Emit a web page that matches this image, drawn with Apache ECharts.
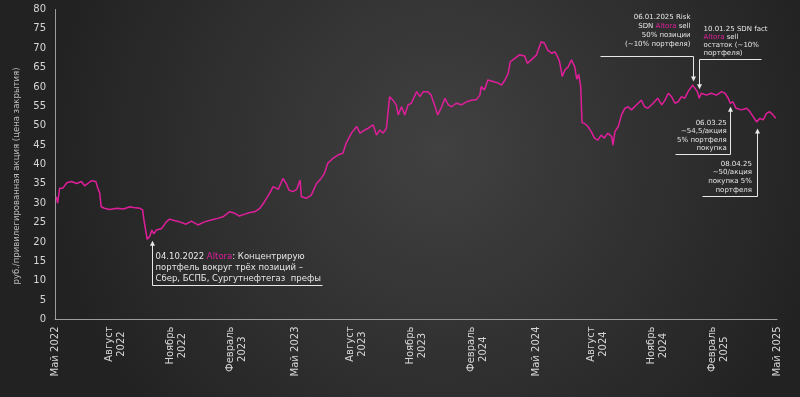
<!DOCTYPE html>
<html lang="ru">
  <head>
    <meta charset="UTF-8" />
    <title>Chart</title>
    <script src="https://cdn.jsdelivr.net/npm/echarts@6.0.0/dist/echarts.min.js"></script>
    <style>
      html, body { margin: 0; padding: 0; background: #262626; }
      #main { width: 800px; height: 397px; }
    </style>
  </head>
  <body>
    <div id="main"></div>
  </body>
  <script type="text/javascript">
    const dates = [
      '2022-05-03','2022-05-05','2022-05-08','2022-05-10','2022-05-13','2022-05-19','2022-05-26',
      '2022-06-03','2022-06-10','2022-06-15','2022-06-20','2022-06-25',
      '2022-07-02','2022-07-05','2022-07-08','2022-07-10','2022-07-15','2022-07-23',
      '2022-08-03','2022-08-13','2022-08-23','2022-08-28',
      '2022-09-07','2022-09-11','2022-09-13','2022-09-16','2022-09-18','2022-09-22','2022-09-25','2022-09-28',
      '2022-10-02','2022-10-10','2022-10-17','2022-10-22','2022-10-30',
      '2022-11-06','2022-11-16','2022-11-24',
      '2022-12-04','2022-12-14','2022-12-24',
      '2023-01-03','2023-01-11','2023-01-21','2023-01-29',
      '2023-02-05','2023-02-13','2023-02-21','2023-02-28',
      '2023-03-08','2023-03-15','2023-03-23','2023-03-28',
      '2023-04-05','2023-04-12','2023-04-17','2023-04-21','2023-04-27',
      '2023-05-03','2023-05-08','2023-05-10','2023-05-18','2023-05-25',
      '2023-06-02','2023-06-09','2023-06-14','2023-06-19','2023-06-27',
      '2023-07-05','2023-07-12','2023-07-17','2023-07-25',
      '2023-08-02','2023-08-07','2023-08-14','2023-08-19','2023-08-27',
      '2023-09-01','2023-09-06','2023-09-11','2023-09-16','2023-09-21','2023-09-26',
      '2023-10-01','2023-10-04','2023-10-09','2023-10-14','2023-10-19','2023-10-24',
      '2023-11-01','2023-11-06','2023-11-11','2023-11-18','2023-11-23','2023-11-28',
      '2023-12-03','2023-12-09','2023-12-14','2023-12-19','2023-12-24','2023-12-31',
      '2024-01-08','2024-01-16','2024-01-23','2024-01-31',
      '2024-02-05','2024-02-07','2024-02-12','2024-02-17','2024-02-25',
      '2024-03-04','2024-03-09','2024-03-14','2024-03-19','2024-03-22','2024-03-29',
      '2024-04-05','2024-04-13','2024-04-17','2024-04-23',
      '2024-05-01','2024-05-08','2024-05-13','2024-05-18','2024-05-24','2024-05-29',
      '2024-06-03','2024-06-05','2024-06-09','2024-06-13','2024-06-18','2024-06-23','2024-06-28',
      '2024-07-01','2024-07-04','2024-07-07','2024-07-09','2024-07-13','2024-07-18','2024-07-23','2024-07-28',
      '2024-08-02','2024-08-07','2024-08-12','2024-08-17','2024-08-23','2024-08-25','2024-08-28',
      '2024-09-02','2024-09-07','2024-09-12','2024-09-17','2024-09-22','2024-09-30',
      '2024-10-07','2024-10-12','2024-10-17','2024-10-25',
      '2024-11-01','2024-11-07','2024-11-12','2024-11-17','2024-11-22','2024-11-27',
      '2024-12-02','2024-12-07','2024-12-12','2024-12-17','2024-12-24','2024-12-27','2024-12-31',
      '2025-01-03','2025-01-06','2025-01-14','2025-01-21','2025-01-29',
      '2025-02-06','2025-02-11','2025-02-16','2025-02-19','2025-02-23','2025-02-28',
      '2025-03-08','2025-03-16','2025-03-21','2025-03-26','2025-03-31',
      '2025-04-05','2025-04-10','2025-04-15','2025-04-20','2025-04-25','2025-04-29'
    ];
    const prices = [
      31.7, 30.0, 33.9, 34.3, 33.9, 35.3, 35.6,
      35.1, 35.6, 34.5, 35.1, 35.8,
      35.6, 33.9, 32.6, 29.1, 28.7, 28.4,
      28.7, 28.5, 29.1, 28.9,
      28.7, 28.3, 25.7, 22.7, 20.7, 21.5, 23.1, 22.1,
      23.1, 23.5, 25.2, 25.9, 25.5,
      25.2, 24.6, 25.4,
      24.4, 25.2, 25.7,
      26.1, 26.5, 27.8, 27.4,
      26.7, 27.2, 27.6, 27.8,
      28.7, 30.4, 32.6, 34.3,
      33.6, 36.4, 35.1, 33.4, 33.0,
      33.6, 36.0, 31.7, 31.3, 32.1,
      35.1, 36.4, 37.7, 40.3, 41.6,
      42.5, 42.9, 45.5, 48.1,
      49.8, 48.1, 48.9, 49.3, 50.2,
      47.6, 48.9, 48.1, 49.3, 57.5, 56.6,
      55.4, 52.8, 54.9, 52.8, 55.4, 55.8,
      58.8, 57.5, 58.8, 58.8, 57.9, 55.4,
      52.8, 54.9, 57.1, 55.4, 54.9, 55.8,
      55.4, 56.2, 56.6, 56.8,
      57.9, 60.1, 59.2, 61.8, 61.4,
      61.0, 60.5, 61.8, 63.5, 66.5, 67.4,
      68.3, 68.0, 66.1, 67.0,
      68.3, 71.7, 71.3, 69.5, 68.7, 69.1,
      67.4, 66.5, 62.7, 64.4, 65.2, 67.0, 65.2,
      62.0, 63.3, 60.1, 50.8, 50.6, 49.8, 48.5, 46.8,
      46.3, 47.6, 46.8, 48.1, 47.2, 45.0, 48.5,
      49.8, 52.8, 54.5, 54.9, 54.1, 55.4,
      56.6, 54.9, 54.5, 55.8,
      57.1, 55.4, 56.6, 58.4, 57.5, 55.8,
      56.2, 57.5, 57.1, 58.8, 60.5, 60.1, 58.8,
      57.1, 58.4, 57.9, 58.4, 57.9,
      58.8, 58.4, 57.1, 55.8, 56.2, 54.5,
      54.1, 54.5, 53.6, 52.3, 51.0,
      51.9, 51.5, 53.2, 53.6, 52.8, 51.9
    ];

    const tickDates = [
      '2022-05-01','2022-08-01','2022-11-01','2023-02-01','2023-05-01','2023-08-01','2023-11-01',
      '2024-02-01','2024-05-01','2024-08-01','2024-11-01','2025-02-01','2025-05-01'
    ];
    const tickLabels = [
      'Май 2022','Август\n2022','Ноябрь\n2022','Февраль\n2023','Май 2023','Август\n2023','Ноябрь\n2023',
      'Февраль\n2024','Май 2024','Август\n2024','Ноябрь\n2024','Февраль\n2025','Май 2025'
    ];

    // подписи-стрелки: дата и уровень острия
    const noteDates = ['2022-09-26', '2024-12-24', '2025-01-03', '2025-02-19', '2025-04-01'];
    const noteValues = [20.3, 61.4, 59.4, 54.9, 49.3];
    const noteTexts = [
      ['04.10.2022 Altora: Концентрирую', 'портфель вокруг трёх позиций –', 'Сбер, БСПБ, Сургутнефтегаз  префы'],
      ['06.01.2025 Risk', 'SDN Altora sell', '50% позиции', '(~10% портфеля)'],
      ['10.01.25 SDN fact', 'Altora sell', 'остаток (~10%', 'портфеля)'],
      ['06.03.25', '~54,5/акция', '5% портфеля', 'покупка'],
      ['08.04.25', '~50/акция', 'покупка 5%', 'портфеля']
    ];

    const pink = '#e01e9b';
    const textColor = '#d6d6d6';
    const fontFamily = 'DejaVu Sans';

    // раскладка подписей в пикселях относительно острия
    const noteLayout = [
      { stem: 44, from: 0, to: 170, tx: 3, ty: -1, align: 'left', size: 8.5, lh: 11 },
      { stem: -26, from: -93, to: 0, tx: -3, ty: -7.5, align: 'right', size: 7, lh: 9 },
      { stem: -30, from: 0, to: 62, tx: 4, ty: -2.7, align: 'left', size: 7, lh: 7.8 },
      { stem: 47, from: -55, to: 0, tx: -3.7, ty: -2, align: 'right', size: 7, lh: 8.4 },
      { stem: 68, from: -55, to: 0, tx: -5.6, ty: -2.3, align: 'right', size: 7, lh: 8.7 }
    ];

    const toTime = (d) => echarts.time.parse(d).getTime();
    const tickTimes = tickDates.map(toTime);

    const chartDom = document.getElementById('main');
    const myChart = echarts.init(chartDom);

    const option = {
      backgroundColor: new echarts.graphic.RadialGradient(0.55, 0.38, 1.0, [
        { offset: 0, color: '#414141' },
        { offset: 1, color: '#222222' }
      ]),
      animation: false,
      grid: { left: 55, right: 23, top: 9.5, bottom: 77.5 },
      xAxis: {
        type: 'value',
        min: tickTimes[0],
        max: tickTimes[tickTimes.length - 1],
        axisLine: { lineStyle: { color: '#9c9c9c', width: 1 } },
        axisTick: { show: false },
        splitLine: { show: false },
        axisLabel: {
          customValues: tickTimes,
          rotate: 90,
          margin: 7,
          color: textColor,
          fontFamily: fontFamily,
          fontSize: 10,
          formatter: function (val) {
            let i = tickTimes.findIndex((t) => Math.abs(t - val) < 86400000);
            if (i < 0) return '';
            return tickLabels[i].split('\n').map((s) => '{a|' + s + '}').join('\n');
          },
          rich: {
            a: { align: 'center', color: textColor, fontFamily: fontFamily, fontSize: 10, lineHeight: 12 }
          }
        }
      },
      yAxis: {
        type: 'value',
        min: 0,
        max: 80,
        interval: 5,
        name: 'руб./привилегированная акция (цена закрытия)',
        nameLocation: 'middle',
        nameGap: 34,
        nameTextStyle: { color: '#bdbdbd', fontFamily: fontFamily, fontSize: 8.5, padding: [0, 23, 0, 0] },
        axisLine: { show: true, lineStyle: { color: '#9c9c9c', width: 1 } },
        axisTick: { show: false },
        splitLine: { show: false },
        axisLabel: { color: textColor, fontFamily: fontFamily, fontSize: 10, margin: 9 }
      },
      series: [
        {
          type: 'line',
          data: dates.map((d, i) => [toTime(d), prices[i]]),
          showSymbol: false,
          lineStyle: { color: pink, width: 1.5 },
          itemStyle: { color: pink }
        }
      ]
    };

    myChart.setOption(option);

    // стрелки с подписями поверх графика
    const graphics = [];
    noteDates.forEach((d, i) => {
      const p = myChart.convertToPixel({ xAxisIndex: 0, yAxisIndex: 0 }, [toTime(d), noteValues[i]]);
      const L = noteLayout[i];
      const px = Math.round(p[0]) + 0.5;
      const py = p[1];
      const hy = Math.round(py + L.stem) + 0.5;
      const dir = L.stem > 0 ? 1 : -1;
      graphics.push({
        type: 'polyline',
        silent: true,
        shape: { points: [[px, py + dir * 4], [px, hy], [L.from ? px + L.from : px + L.to, hy]] },
        style: { stroke: '#e8e8e8', lineWidth: 1, fill: null }
      });
      graphics.push({
        type: 'polygon',
        silent: true,
        shape: { points: [[px, py], [px - 2.5, py + dir * 5], [px + 2.5, py + dir * 5]] },
        style: { fill: '#e8e8e8' }
      });
      graphics.push({
        type: 'text',
        silent: true,
        x: px + L.tx,
        y: hy + L.ty,
        style: {
          text: noteTexts[i].map((s) => s.replace('Altora', '{p|Altora}')).join('\n'),
          fill: '#e6e6e6',
          fontFamily: fontFamily,
          fontSize: L.size,
          lineHeight: L.lh,
          align: L.align,
          verticalAlign: 'bottom',
          rich: {
            p: { fill: pink, fontFamily: fontFamily, fontSize: L.size, lineHeight: L.lh }
          }
        }
      });
    });
    myChart.setOption({ graphic: graphics });
  </script>
</html>
